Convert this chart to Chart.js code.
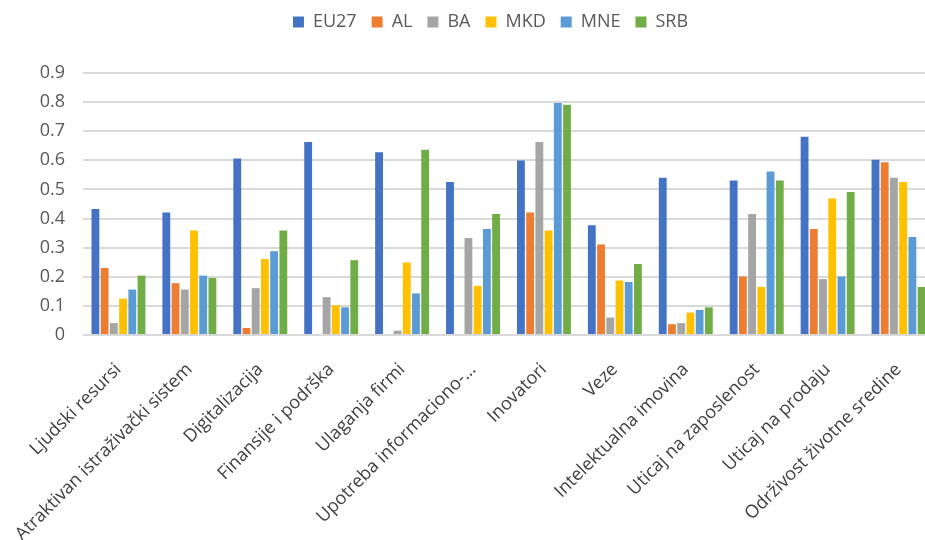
<!DOCTYPE html>
<html>
<head>
<meta charset="utf-8">
<script src="https://cdn.jsdelivr.net/npm/chart.js@4/dist/chart.umd.min.js"></script>
<style>
  html, body { margin: 0; padding: 0; background: #fff; overflow: hidden; }
  #wrap { width: 925px; height: 540px; overflow: hidden; }
</style>
</head>
<body>
<div id="wrap"><canvas id="chart" width="945" height="540"></canvas></div>
<script>
// Podaci
const categories = [
  'Ljudski resursi',
  'Atraktivan istraživački sistem',
  'Digitalizacija',
  'Finansije i podrška',
  'Ulaganja firmi',
  'Upotreba informaciono-…',
  'Inovatori',
  'Veze',
  'Intelektualna imovina',
  'Uticaj na zaposlenost',
  'Uticaj na prodaju',
  'Održivost životne sredine'
];
const eu27 = [0.433, 0.421, 0.606, 0.663, 0.628, 0.526, 0.599, 0.377, 0.540, 0.531, 0.681, 0.602];
const al   = [0.230, 0.178, 0.024, 0,     0,     0,     0.421, 0.311, 0.037, 0.201, 0.364, 0.593];
const ba   = [0.041, 0.156, 0.161, 0.130, 0.015, 0.333, 0.663, 0.060, 0.041, 0.416, 0.192, 0.540];
const mkd  = [0.125, 0.359, 0.261, 0.102, 0.249, 0.169, 0.359, 0.187, 0.077, 0.165, 0.469, 0.526];
const mne  = [0.156, 0.204, 0.288, 0.095, 0.143, 0.364, 0.797, 0.182, 0.086, 0.562, 0.201, 0.337];
const srb  = [0.204, 0.196, 0.359, 0.257, 0.636, 0.416, 0.791, 0.244, 0.095, 0.531, 0.491, 0.165];
const yTicks = [0, 0.1, 0.2, 0.3, 0.4, 0.5, 0.6, 0.7, 0.8, 0.9];

const series = [
  { label: 'EU27', data: eu27, color: '#4472C4' },
  { label: 'AL',   data: al,   color: '#ED7D31' },
  { label: 'BA',   data: ba,   color: '#A5A5A5' },
  { label: 'MKD',  data: mkd,  color: '#FFC000' },
  { label: 'MNE',  data: mne,  color: '#5B9BD5' },
  { label: 'SRB',  data: srb,  color: '#70AD47' }
];

const font = "'Open Sans', 'Noto Sans', sans-serif";

// razmak ispod legende + pomeranje legende
const legendGap = {
  id: 'legendGap',
  beforeInit(chart) {
    const fit = chart.legend.fit;
    chart.legend.fit = function () {
      fit.call(this);
      this.height += 30;
    };
  },
  afterLayout(chart) {
    const lg = chart.legend;
    lg.left -= 18;
    lg.right -= 18;
    lg.top -= 2;
    lg.bottom -= 2;
  }
};

new Chart(document.getElementById('chart'), {
  type: 'bar',
  data: {
    labels: categories,
    datasets: series.map(s => ({
      label: s.label,
      data: s.data,
      backgroundColor: s.color,
      borderWidth: 0,
      categoryPercentage: 0.78,
      barPercentage: 0.85
    }))
  },
  options: {
    responsive: false,
    animation: false,
    devicePixelRatio: 1,
    layout: { padding: { top: 0, right: 11, left: 0, bottom: 0 } },
    plugins: {
      legend: {
        position: 'top',
        fullSize: false,
        labels: {
          font: { family: font, size: 18 },
          color: '#595959',
          boxWidth: 11,
          boxHeight: 11,
          padding: 15
        }
      },
      tooltip: { enabled: false }
    },
    scales: {
      x: {
        grid: { display: false },
        border: { display: false },
        ticks: {
          font: { family: font, size: 18 },
          color: '#404040',
          maxRotation: 45,
          minRotation: 45,
          autoSkip: false,
          padding: 16
        },
        afterFit: scale => { scale.height = 205; }
      },
      y: {
        min: 0,
        max: 0.9,
        afterBuildTicks: scale => { scale.ticks = yTicks.map(v => ({ value: v })); },
        grid: { color: '#d9d9d9', lineWidth: 2, drawTicks: false },
        border: { display: false },
        ticks: {
          font: { family: font, size: 18 },
          color: '#595959',
          padding: 18,
          callback: v => v === 0 ? '0' : v.toFixed(1)
        },
        afterFit: scale => { scale.width = 83; }
      }
    }
  },
  plugins: [legendGap]
});
</script>
</body>
</html>
